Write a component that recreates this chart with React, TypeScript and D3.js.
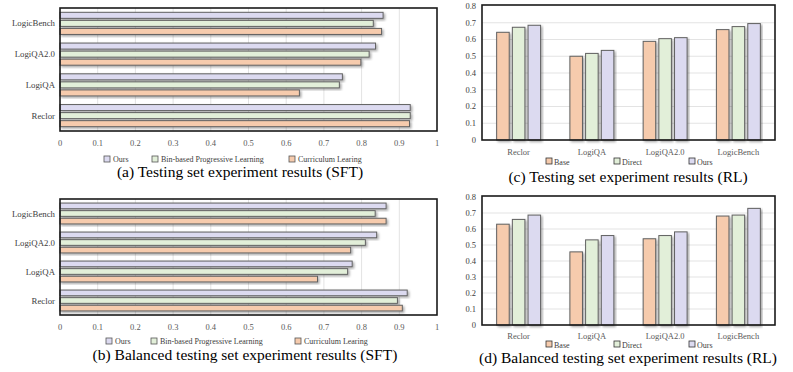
import React from "react";
import * as d3 from "d3";

// categories shared by all four panels (bottom-to-top on the left, left-to-right on the right)
const categories = ["Reclor", "LogiQA", "LogiQA2.0", "LogicBench"];

// SFT panels (a) and (b)
const sftSeries = ["Ours", "Bin-based Progressive Learning", "Curriculum Learing"];
const sftTicks = [0, 0.1, 0.2, 0.3, 0.4, 0.5, 0.6, 0.7, 0.8, 0.9, 1];
const sftTestOurs = [0.929, 0.749, 0.837, 0.857];
const sftTestBin = [0.929, 0.741, 0.82, 0.831];
const sftTestCurr = [0.927, 0.635, 0.798, 0.853];
const sftBalOurs = [0.921, 0.775, 0.84, 0.865];
const sftBalBin = [0.895, 0.763, 0.81, 0.836];
const sftBalCurr = [0.908, 0.683, 0.771, 0.865];

// RL panels (c) and (d)
const rlSeries = ["Base", "Direct", "Ours"];
const rlTicks = [0, 0.1, 0.2, 0.3, 0.4, 0.5, 0.6, 0.7, 0.8];
const rlTestBase = [0.643, 0.5, 0.589, 0.659];
const rlTestDirect = [0.673, 0.517, 0.605, 0.677];
const rlTestOurs = [0.685, 0.535, 0.611, 0.695];
const rlBalBase = [0.63, 0.457, 0.539, 0.681];
const rlBalDirect = [0.66, 0.532, 0.559, 0.687];
const rlBalOurs = [0.687, 0.559, 0.582, 0.729];

const PURPLE = "#dcdaf0";
const GREEN = "#e2efd9";
const ORANGE = "#f6cbad";
const FONT = "Liberation Serif";

type HProps = {
  values: number[][]; // per series, per category
  x0: number; x1: number; y0: number; y1: number;
  tickY: number; legendY: number; legendX: number[];
  caption: string; captionX: number; captionY: number;
};

const HBarPanel = ({ values, x0, x1, y0, y1, tickY, legendY, legendX, caption, captionX, captionY }: HProps) => {
  const x = d3.scaleLinear().domain([0, 1]).range([x0, x1]);
  // LogicBench on top
  const y = d3.scaleBand().domain([...categories].reverse()).range([y0, y1]).paddingInner(0.28).paddingOuter(0.14);
  const sub = d3.scaleBand().domain(sftSeries).range([0, y.bandwidth()]).paddingInner(0.25);
  const colors = d3.scaleOrdinal<string>().domain(sftSeries).range([PURPLE, GREEN, ORANGE]);

  return (
    <g fontFamily={FONT}>
      {sftTicks.slice(1, -1).map((t) => (
        <line key={t} x1={x(t)} x2={x(t)} y1={y0} y2={y1} stroke="#e3e3e3" strokeWidth={1} />
      ))}
      {categories.map((c, ci) => (
        <g key={c}>
          {sftSeries.map((s, si) => {
            const by = (y(c) as number) + (sub(s) as number);
            return (
              <rect key={s} x={x(0)} y={by} width={x(values[si][ci]) - x(0)} height={sub.bandwidth()}
                fill={colors(s)} stroke="#606060" strokeWidth={1} filter="url(#shadow)" />
            );
          })}
          <text x={x0 - 5} y={(y(c) as number) + y.bandwidth() / 2} dy="0.35em" textAnchor="end"
            fontSize={8.8} fill="#404040">{c}</text>
        </g>
      ))}
      <rect x={x0} y={y0} width={x1 - x0} height={y1 - y0} fill="none" stroke="#1a1a1a" strokeWidth={1.6} />
      {sftTicks.map((t) => (
        <text key={t} x={x(t)} y={tickY} dy="0.35em" textAnchor="middle" fontSize={8.5} fill="#595959">{t}</text>
      ))}
      {sftSeries.map((s, i) => (
        <g key={s}>
          <rect x={legendX[i]} y={legendY - 3} width={6} height={6} fill={colors(s)} stroke="#555" strokeWidth={0.8} />
          <text x={legendX[i] + 9} y={legendY} dy="0.35em" fontSize={8} fill="#404040">{s}</text>
        </g>
      ))}
      <text x={captionX} y={captionY} textAnchor="middle" fontSize={15.5} fill="#000">{caption}</text>
    </g>
  );
};

type VProps = {
  values: number[][];
  x0: number; x1: number; y0: number; y1: number;
  catY: number; legendY: number; legendX: number[];
  caption: string; captionX: number; captionY: number;
};

const VBarPanel = ({ values, x0, x1, y0, y1, catY, legendY, legendX, caption, captionX, captionY }: VProps) => {
  const y = d3.scaleLinear().domain([0, 0.8]).range([y1, y0]);
  const x = d3.scaleBand().domain(categories).range([x0, x1]).paddingInner(0.4).paddingOuter(0.2);
  const sub = d3.scaleBand().domain(rlSeries).range([0, x.bandwidth()]).paddingInner(0.2);
  const colors = d3.scaleOrdinal<string>().domain(rlSeries).range([ORANGE, GREEN, PURPLE]);

  return (
    <g fontFamily={FONT}>
      {rlTicks.slice(1, -1).map((t) => (
        <line key={t} x1={x0} x2={x1} y1={y(t)} y2={y(t)} stroke="#e3e3e3" strokeWidth={1} />
      ))}
      {categories.map((c, ci) => (
        <g key={c}>
          {rlSeries.map((s, si) => {
            const bx = (x(c) as number) + (sub(s) as number);
            return (
              <rect key={s} x={bx} y={y(values[si][ci])} width={sub.bandwidth()} height={y(0) - y(values[si][ci])}
                fill={colors(s)} stroke="#606060" strokeWidth={1} filter="url(#shadow)" />
            );
          })}
          <text x={(x(c) as number) + x.bandwidth() / 2} y={catY} dy="0.35em" textAnchor="middle"
            fontSize={8.5} fill="#595959">{c}</text>
        </g>
      ))}
      <rect x={x0} y={y0 - 1} width={x1 - x0} height={y1 - y0 + 1} fill="none" stroke="#1a1a1a" strokeWidth={1.6} />
      {rlTicks.map((t) => (
        <text key={t} x={x0 - 6} y={y(t)} dy="0.35em" textAnchor="end" fontSize={8.5} fill="#404040">{t}</text>
      ))}
      {rlSeries.map((s, i) => (
        <g key={s}>
          <rect x={legendX[i]} y={legendY - 3} width={6} height={6} fill={colors(s)} stroke="#333" strokeWidth={0.8} />
          <text x={legendX[i] + 8} y={legendY + 1} dy="0.35em" fontSize={8} fill="#404040">{s}</text>
        </g>
      ))}
      <text x={captionX} y={captionY} textAnchor="middle" fontSize={15.5} fill="#000">{caption}</text>
    </g>
  );
};

export default function App() {
  return (
    <div style={{ position: "absolute", left: 0, top: 0 }}>
      <svg width={793} height={372} style={{ display: "block", background: "#fff" }}>
        <defs>
          <filter id="shadow" x="-10%" y="-30%" width="130%" height="180%">
            <feDropShadow dx={1.5} dy={1.5} stdDeviation={0.8} floodColor="#000" floodOpacity={0.35} />
          </filter>
        </defs>
        <HBarPanel values={[sftTestOurs, sftTestBin, sftTestCurr]} x0={60} x1={437} y0={8} y1={131}
          tickY={143} legendY={159} legendX={[104, 152, 289]}
          caption="(a) Testing set experiment results (SFT)" captionX={240} captionY={177} />
        <HBarPanel values={[sftBalOurs, sftBalBin, sftBalCurr]} x0={60} x1={437} y0={199} y1={315}
          tickY={327} legendY={341} legendX={[106, 151, 295]}
          caption="(b) Balanced testing set experiment results (SFT)" captionX={245} captionY={360} />
        <VBarPanel values={[rlTestBase, rlTestDirect, rlTestOurs]} x0={482} x1={775} y0={6} y1={140}
          catY={152} legendY={161} legendX={[546, 614, 689]}
          caption="(c) Testing set experiment results (RL)" captionX={628} captionY={182} />
        <VBarPanel values={[rlBalBase, rlBalDirect, rlBalOurs]} x0={482} x1={775} y0={197} y1={325}
          catY={336} legendY={344} legendX={[546, 614, 689]}
          caption="(d) Balanced testing set experiment results (RL)" captionX={628} captionY={363} />
      </svg>
    </div>
  );
}
